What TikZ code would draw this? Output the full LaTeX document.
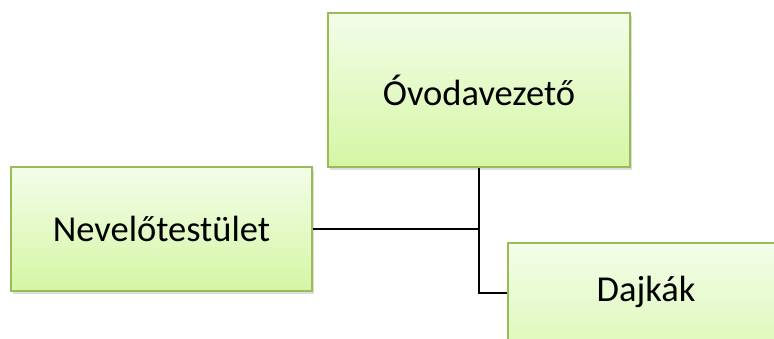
\documentclass[tikz,border=0pt]{standalone}
\usepackage{fontspec}
\setmainfont{Carlito}
\usetikzlibrary{shadows}
\definecolor{boxtop}{HTML}{F3FDE9}
\definecolor{boxbot}{HTML}{D5F6A4}
\definecolor{boxline}{HTML}{9BBB59}
\tikzset{
  orgbox/.style={rectangle, draw=boxline, line width=2pt, top color=boxtop, bottom color=boxbot,
    drop shadow={shadow xshift=1.5pt, shadow yshift=-3pt, opacity=0.22, fill=black!60},
    inner sep=0pt, font=\fontsize{36.5}{40}\selectfont},
  conn/.style={draw=black, line width=1.4pt},
  lbl/.style={inner sep=0pt, font=\fontsize{36.5}{40}\selectfont}
}
\begin{document}
\begin{tikzpicture}[x=1pt,y=-1pt]
\useasboundingbox (0,0) rectangle (774,338);
\node[orgbox, minimum width=302pt, minimum height=154pt] (ovoda) at (479,90) {Óvodavezető};
\node[orgbox, minimum width=301pt, minimum height=124pt] (nevelo) at (161.5,229) {Nevelőtestület};
\node[orgbox, minimum width=302pt, minimum height=154pt] (dajka) at (659,320) {};
\node[lbl] (dajkatext) at (646,292) {Dajkák};
\coordinate (j1) at (479,229);
\coordinate (j2) at (479,293);
\draw[conn] (ovoda.south) -- (j2) -- (j2 -| dajka.west);
\draw[conn] (nevelo.east) -- (j1);
\end{tikzpicture}
\end{document}
